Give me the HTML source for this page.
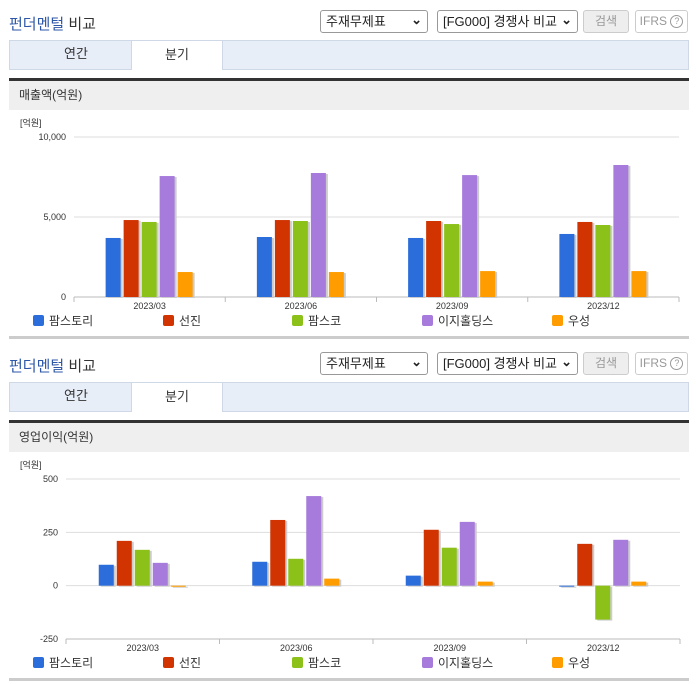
<!DOCTYPE html>
<html><head><meta charset="utf-8">
<style>
*{box-sizing:border-box;margin:0;padding:0}
body{width:696px;height:684px;background:#fff;font-family:"Liberation Sans","Noto Sans CJK KR",sans-serif;position:relative;overflow:hidden;color:#333}
.abs{position:absolute}
.title{font-size:15px;font-weight:normal;color:#333}
.title b{color:#2e57a8;font-weight:normal}
.sel{border:1px solid #999;border-radius:3px;height:23px;font-size:13px;line-height:21px;padding-left:5px;background:#fff;color:#222}
.sel .arr{position:absolute;right:5px;top:-2px;font-size:13px;font-weight:bold}
.btn{border:1px solid #ccc;border-radius:3px;height:23px;font-size:12px;line-height:21px;text-align:center;color:#999}
.tabs{left:9px;width:680px;height:30px;background:#e8eef8;border:1px solid #cfd8e6}
.tab{position:absolute;top:-1px;height:30px;font-size:13px;line-height:28px;text-align:center;width:92px}
.tab.on{background:#fff;border:1px solid #cfd8e6;border-bottom:none}
.dark{left:9px;width:680px;height:3px;background:#333}
.sect{left:9px;width:680px;height:29px;background:#efefef;font-size:12px;line-height:29px;padding-left:10px}
.bot{left:9px;width:680px;height:3px;background:#ccc}
.q{display:inline-block;width:13px;height:13px;border:1px solid #999;border-radius:50%;font-size:9px;line-height:11px;vertical-align:middle}
</style></head><body>
<div>
<div class="abs title" style="left:9px;top:13px"><b>펀더멘털</b> 비교</div>
<div class="abs sel" style="left:320px;top:10px;width:108px">주재무제표<span class="arr">⌄</span></div>
<div class="abs sel" style="left:437px;top:10px;width:141px">[FG000] 경쟁사 비교<span class="arr">⌄</span></div>
<div class="abs btn" style="left:583px;top:10px;width:46px;background:#eee">검색</div>
<div class="abs btn" style="left:635px;top:10px;width:53px">IFRS <span class="q">?</span></div>
<div class="abs tabs" style="top:40px">
<div class="tab" style="left:20px">연간</div>
<div class="tab on" style="left:121px">분기</div></div>
<div class="abs dark" style="top:78px"></div>
<div class="abs sect" style="top:81px">매출액(억원)</div>
<svg class="abs" id="c1" style="left:0;top:110px" width="696" height="225"></svg>
<div class="abs bot" style="top:336px"></div>
</div>
<div>
<div class="abs title" style="left:9px;top:355px"><b>펀더멘털</b> 비교</div>
<div class="abs sel" style="left:320px;top:352px;width:108px">주재무제표<span class="arr">⌄</span></div>
<div class="abs sel" style="left:437px;top:352px;width:141px">[FG000] 경쟁사 비교<span class="arr">⌄</span></div>
<div class="abs btn" style="left:583px;top:352px;width:46px;background:#eee">검색</div>
<div class="abs btn" style="left:635px;top:352px;width:53px">IFRS <span class="q">?</span></div>
<div class="abs tabs" style="top:382px">
<div class="tab" style="left:20px">연간</div>
<div class="tab on" style="left:121px">분기</div></div>
<div class="abs dark" style="top:420px"></div>
<div class="abs sect" style="top:423px">영업이익(억원)</div>
<svg class="abs" id="c2" style="left:0;top:452px" width="696" height="225"></svg>
<div class="abs bot" style="top:678px"></div>
</div>
<script>
const categories=["2023/03","2023/06","2023/09","2023/12"];
const seriesNames=["팜스토리","선진","팜스코","이지홀딩스","우성"];
const seriesColors=["#2a6ddb","#d13400","#8cc11a","#a67bdc","#ff9c00"];
const revBlue=[3690,3750,3690,3940];
const revRed=[4810,4810,4750,4690];
const revGreen=[4690,4750,4560,4500];
const revPurple=[7560,7750,7620,8250];
const revOrange=[1560,1560,1620,1620];
const revTicks=[0,5000,10000];
const revTickLabels=["0","5,000","10,000"];
const opBlue=[98,112,47,-3];
const opRed=[210,308,262,196];
const opGreen=[168,126,178,-159];
const opPurple=[107,420,299,215];
const opOrange=[-5,33,19,19];
const opTicks=[-250,0,250,500];
const opTickLabels=["-250","0","250","500"];
const NS="http://www.w3.org/2000/svg";
function mk(svg,tag,attrs,txt){const e=document.createElementNS(NS,tag);for(const k in attrs)e.setAttribute(k,attrs[k]);if(txt!==undefined)e.textContent=txt;svg.appendChild(e);return e;}
function draw(id,series,ticks,labels,cfg){
  const svg=document.getElementById(id);
  const min=ticks[0],max=ticks[ticks.length-1];
  const y=v=>cfg.yTop+(max-v)/(max-min)*(cfg.yBot-cfg.yTop);
  const cw=(cfg.x1-cfg.x0)/categories.length;
  const x=i=>cfg.x0+cw*(i+0.5);
  let t=mk(svg,'text',{x:20,y:16,'font-size':9,fill:'#333'},'[억원]');
  
  ticks.forEach((v,i)=>{
    const g=mk(svg,'line',{x1:cfg.x0,x2:cfg.x1,y1:y(v),y2:y(v),stroke:'#ddd'});
    
    const l=mk(svg,'text',{x:cfg.x0-8,y:y(v)+3,'font-size':9,fill:'#333','text-anchor':'end'},labels[i]);
    
  });
  const a=mk(svg,'line',{x1:cfg.x0,x2:cfg.x1,y1:cfg.yBot,y2:cfg.yBot,stroke:'#bbb'});
  
  for(let i=0;i<=categories.length;i++){
    const tk=mk(svg,'line',{x1:cfg.x0+cw*i,x2:cfg.x0+cw*i,y1:cfg.yBot,y2:cfg.yBot+5,stroke:'#bbb'});
    
  }
  categories.forEach((c,i)=>{
    const l=mk(svg,'text',{x:x(i),y:cfg.yBot+12,'font-size':9,fill:'#333','text-anchor':'middle'},c);
    
    series.forEach((s,j)=>{
      const bx=x(i)-44+j*18;
      const y0=y(0),yv=y(s[i]);
      const top=Math.min(y0,yv),h=Math.max(Math.abs(y0-yv),1);
      const sh=mk(svg,'rect',{x:bx+2,y:top+1,width:15,height:h,fill:'#ccc'});
      
      const r=mk(svg,'rect',{x:bx,y:top,width:15,height:h,fill:seriesColors[j]});
      
    });
  });
  const lx=[33,163,292,422,552];
  seriesNames.forEach((n,j)=>{
    const r=mk(svg,'rect',{x:lx[j],y:cfg.legY-6,width:11,height:11,rx:2,fill:seriesColors[j]});
    
    const l=mk(svg,'text',{x:lx[j]+16,y:cfg.legY+4,'font-size':12,fill:'#333'},n);
    
  });
}
draw('c1',[revBlue,revRed,revGreen,revPurple,revOrange],revTicks,revTickLabels,{x0:74,x1:679,yTop:27,yBot:187,legY:211});
draw('c2',[opBlue,opRed,opGreen,opPurple,opOrange],opTicks,opTickLabels,{x0:66,x1:680,yTop:27,yBot:187,legY:211});
</script>
</body></html>
